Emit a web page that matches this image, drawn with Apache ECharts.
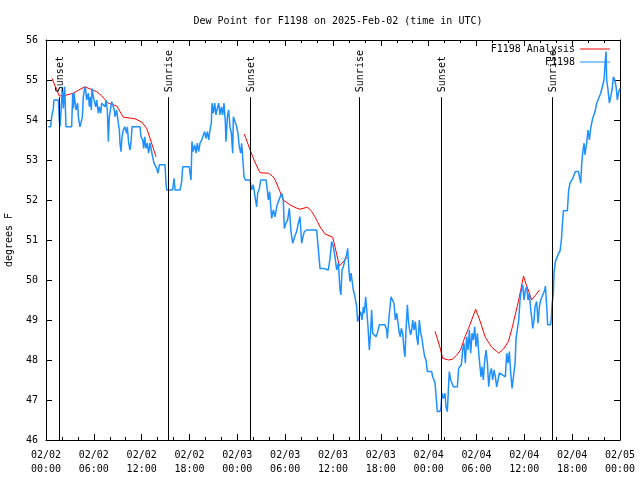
<!DOCTYPE html>
<html><head><meta charset="utf-8">
<script src="https://cdn.jsdelivr.net/npm/echarts@6/dist/echarts.min.js"></script>
<style>html,body{margin:0;padding:0;background:#fff}#c{width:640px;height:480px}</style>
</head><body><div id="c"></div>
<script>
// Hours since 2025-02-02 00:00 UTC
const obsHours = [0.29,0.59,0.71,0.92,1.0,1.55,1.67,1.76,1.97,2.05,2.17,2.34,2.51,3.22,3.35,3.43,3.51,3.76,3.97,4.06,4.18,4.26,4.47,4.56,4.68,4.81,4.93,5.1,5.31,5.44,5.56,5.69,5.77,5.94,6.15,6.23,6.36,6.56,6.69,6.86,6.98,7.19,7.4,7.53,7.69,7.82,7.94,8.11,8.24,8.45,8.57,8.65,8.86,9.07,9.2,9.28,9.41,9.53,9.7,9.87,10.12,10.2,10.37,10.54,10.66,10.79,11.04,11.79,11.92,12.13,12.25,12.38,12.54,12.71,12.88,13.05,13.21,13.38,13.55,13.71,13.88,14.05,14.22,14.93,15.05,15.14,15.89,16.06,16.19,16.81,17.02,17.15,17.98,18.06,18.19,18.31,
18.45,18.65,18.82,18.98,19.15,19.32,19.53,19.73,19.9,20.07,20.24,20.41,20.57,20.74,20.82,20.99,21.16,21.32,21.49,21.66,21.83,22.0,22.16,22.33,22.5,22.58,22.75,22.91,23.08,23.25,23.42,23.5,23.75,23.92,24.08,24.25,24.42,24.54,24.67,24.84,25.01,25.59,25.79,26.0,26.22,26.43,26.55,26.76,26.93,27.6,27.76,27.89,28.05,
28.31,28.52,28.73,28.93,29.14,29.35,29.56,29.77,29.89,30.1,30.31,30.52,30.73,30.94,31.1,31.27,31.44,31.65,31.86,32.07,32.19,32.4,32.7,33.95,34.16,34.37,34.58,34.79,35.0,35.41,35.63,35.83,36.04,36.25,36.46,36.67,36.88,37.0,37.13,37.29,37.5,37.71,37.84,38.0,38.13,38.26,38.38,38.55,38.76,38.97,39.09,39.3,39.47,39.64,39.81,39.93,40.1,40.23,40.39,40.56,40.73,40.85,40.98,41.15,41.4,41.56,41.81,42.52,
42.73,42.81,42.9,43.03,43.28,43.49,43.65,43.82,43.99,44.16,44.28,44.45,44.57,44.74,44.91,45.03,45.16,45.33,45.45,45.58,45.74,45.87,46.0,46.16,46.33,46.5,46.66,46.83,47.0,47.16,47.33,47.5,47.67,47.84,48.38,48.5,48.67,48.8,48.92,49.09,49.42,49.55,49.67,49.84,50.05,50.17,50.34,50.47,50.59,50.76,51.1,51.6,51.76,51.93,52.1,52.27,52.43,52.6,52.77,52.94,53.1,53.27,53.44,53.61,53.77,53.94,54.11,54.28,54.44,54.57,54.69,54.86,55.03,55.2,55.37,55.53,55.7,55.87,56.03,56.2,56.37,56.53,56.7,56.87,57.04,57.62,57.79,57.96,58.12,58.29,58.46,58.71,58.84,58.96,59.13,59.3,59.46,59.63,59.8,59.96,60.13,60.3,60.46,60.63,60.8,60.92,61.05,61.22,61.34,61.55,61.72,61.89,62.05,62.22,62.39,62.56,62.64,62.81,62.93,63.3,63.4,63.47,63.64,63.72,63.89,64.14,64.31,64.48,64.65,64.81,64.9,65.4,65.56,65.73,66.07,66.4,66.78,66.98,67.07,67.19,67.32,67.49,67.61,67.74,67.82,67.99,68.16,68.32,68.57,68.87,69.08,69.33,69.58,69.83,70.0,70.16,70.25,70.33,70.5,70.67,70.84,71.0,71.17,71.34,71.51,71.67,71.84,72.0];
const obsValues = [53.83,53.83,54.08,54.29,54.5,54.5,54.0,53.83,54.5,54.83,54.29,54.83,53.83,53.83,54.67,54.29,54.67,54.25,54.42,54.08,53.92,53.83,53.83,54.08,54.58,54.75,54.83,54.5,54.67,54.33,54.58,54.25,54.79,54.58,54.54,54.33,54.5,54.17,54.33,54.17,54.42,54.46,54.33,54.5,54.25,53.46,54.08,54.29,54.46,54.46,54.25,54.08,54.25,53.92,53.75,53.42,53.21,53.58,53.75,53.83,53.67,53.83,53.42,53.25,53.42,53.83,53.83,53.83,53.58,53.5,53.29,53.58,53.29,53.42,53.17,53.42,53.25,53.08,52.92,52.88,52.79,52.67,52.88,52.88,52.42,52.25,52.25,52.54,52.25,52.25,52.46,52.83,52.83,52.67,52.5,53.46,
53.21,53.38,53.17,53.42,53.21,53.42,53.5,53.5,53.71,53.54,53.71,53.5,53.75,53.92,54.42,54.17,54.42,54.13,54.29,54.42,54.13,54.33,54.13,54.42,53.92,53.46,54.08,54.25,53.83,53.67,53.17,54.08,54.08,53.83,53.67,53.33,53.17,53.42,53.08,52.58,52.5,52.5,52.25,52.38,52.08,51.83,52.17,52.29,52.5,52.5,52.25,52.0,52.21,
51.54,51.75,51.58,51.83,51.96,52.0,52.17,52.0,51.29,51.42,51.5,51.79,51.21,50.92,50.88,51.13,51.21,51.42,51.58,50.92,51.04,51.21,51.25,51.25,51.21,50.29,50.25,50.29,50.25,50.25,50.54,50.96,50.83,50.58,50.25,50.42,49.75,49.63,50.25,50.33,50.5,50.63,50.79,50.25,49.96,50.17,50.0,49.75,49.58,49.33,48.96,48.96,49.21,49.0,49.33,49.17,49.58,49.25,48.83,48.25,48.75,49.25,48.67,48.63,48.58,48.67,48.88,48.88,
48.75,48.54,48.75,49.08,49.58,49.58,49.42,49.0,49.17,48.92,48.71,48.58,48.79,48.67,48.25,48.08,48.75,49.38,49.0,48.79,48.63,48.75,49.0,48.75,48.96,48.58,48.38,49.0,48.67,48.54,48.29,48.08,48.0,47.71,47.71,47.58,47.5,47.42,47.13,46.71,46.71,46.83,47.17,47.04,47.17,46.83,46.71,47.25,47.71,47.5,47.33,47.33,47.79,47.75,47.88,48.25,48.42,47.92,48.58,48.25,48.75,48.17,48.67,48.5,48.83,48.33,48.67,48.17,47.83,47.58,47.83,47.5,48.0,48.25,47.92,47.33,47.67,47.79,47.5,47.75,47.58,47.33,47.5,47.68,47.63,47.58,48.17,47.92,48.21,47.67,47.29,47.33,47.92,48.54,48.5,49.0,49.5,49.75,49.88,49.5,49.75,49.83,49.5,49.67,49.25,49.08,48.79,49.0,49.33,49.46,48.92,49.33,49.5,49.58,49.63,49.75,49.85,49.33,48.88,48.88,49.08,49.38,49.67,50.17,50.46,50.5,50.67,50.73,51.0,51.5,51.73,51.73,52.25,52.42,52.54,52.71,52.71,52.67,52.42,52.88,53.17,53.42,53.13,53.33,53.42,53.75,53.5,53.79,54.04,54.21,54.42,54.46,54.67,54.71,55.0,55.5,55.71,55.0,54.75,54.42,54.42,54.75,55.08,55.0,54.83,54.5,54.71,54.79];

// Analysis segments (null = gap)
const anaHours = [0.75,1.67,2.5,3.42,4.1,4.89,5.6,6.36,7.0,7.81,8.87,9.7,11.16,12.0,12.63,13.2,13.8, 19,
24.87,25.7,26.2,26.85,27.9,28.4,28.7,29.35,29.77,30.6,31.4,31.86,32.8,33.3,33.74,34.37,35.0,35.96,36.4,36.8,37.8, 43,
48.8,49.4,49.76,50.5,51.0,51.5,52.0,52.5,53.0,53.9,54.4,55.1,55.9,56.8,57.4,58.0,58.5,59.25,59.9,60.2,60.5,60.9,61.4,61.9];
const anaValues = [55.04,54.6,54.62,54.67,54.75,54.83,54.77,54.71,54.6,54.42,54.35,54.07,54.03,53.95,53.79,53.45,53.08, null,
53.65,53.2,52.95,52.68,52.67,52.6,52.52,52.21,52.0,51.88,51.8,51.77,51.82,51.72,51.58,51.33,51.15,51.07,50.7,50.35,50.57, null,
48.72,48.33,48.04,48.0,48.02,48.12,48.25,48.55,48.79,49.27,49.0,48.57,48.32,48.17,48.28,48.46,48.83,49.46,50.1,49.9,49.75,49.5,49.62,49.75];

const sunHours = [1.6, 15.35, 25.65, 39.3, 49.6, 63.42];
const sunLabels = ['Sunset','Sunrise','Sunset','Sunrise','Sunset','Sunrise'];
const sunLineTop = 54.57;

const xTickLabels = ['02/02\n00:00','02/02\n06:00','02/02\n12:00','02/02\n18:00','02/03\n00:00','02/03\n06:00','02/03\n12:00','02/03\n18:00','02/04\n00:00','02/04\n06:00','02/04\n12:00','02/04\n18:00','02/05\n00:00'];

const FONT = '"DejaVu Sans Mono", monospace';
const chart = echarts.init(document.getElementById('c'), null, {renderer:'canvas'});
const obsData = obsHours.map((h,i)=>[h, obsValues[i]]);
const anaData = anaHours.map((h,i)=>[h, anaValues[i]===null ? '-' : anaValues[i]]);

const axisCommon = {
  axisLine:{show:true, onZero:false, lineStyle:{color:'#000', width:1}},
  splitLine:{show:false}
};
chart.setOption({
  animation:false,
  backgroundColor:'#fff',
  textStyle:{fontFamily:FONT, fontSize:10, color:'#000'},
  title:{text:'Dew Point for F1198 on 2025-Feb-02 (time in UTC)', left:333, top:11, textAlign:'center',
    textStyle:{fontFamily:FONT, fontSize:10, fontWeight:'normal', color:'#000'}},
  grid:{left:46, right:20, top:40, bottom:40, show:false, containLabel:false, outerBoundsMode:'none'},
  legend:{data:['F1198 Analysis','F1198'], orient:'vertical', right:30, top:44, align:'right', padding:0,
    icon:'rect', itemWidth:30, itemHeight:1, itemGap:3,
    textStyle:{fontFamily:FONT, fontSize:10, color:'#000'}},
  xAxis:[
    Object.assign({type:'value', min:0, max:72, interval:6, position:'bottom',
      axisTick:{show:true, inside:true, length:6, lineStyle:{color:'#000'}},
      minorTick:{show:true, splitNumber:3, length:3, lineStyle:{color:'#000'}},
      axisLabel:{margin:8, lineHeight:14, fontFamily:FONT, fontSize:10, color:'#000',
        formatter:(v)=>xTickLabels[Math.round(v/6)]}}, axisCommon),
    Object.assign({type:'value', min:0, max:72, interval:6, position:'top',
      axisTick:{show:true, inside:true, length:6, lineStyle:{color:'#000'}},
      minorTick:{show:true, splitNumber:3, length:3, lineStyle:{color:'#000'}},
      axisLabel:{show:false}}, axisCommon)
  ],
  yAxis:[
    Object.assign({type:'value', min:46, max:56, interval:1, position:'left',
      name:'degrees F', nameLocation:'middle', nameRotate:90, nameGap:32,
      nameTextStyle:{fontFamily:FONT, fontSize:10, color:'#000'},
      axisTick:{show:true, inside:true, length:6, lineStyle:{color:'#000'}},
      axisLabel:{margin:8, fontFamily:FONT, fontSize:10, color:'#000'}}, axisCommon),
    Object.assign({type:'value', min:46, max:56, interval:1, position:'right',
      axisTick:{show:true, inside:true, length:6, lineStyle:{color:'#000'}},
      axisLabel:{show:false}}, axisCommon)
  ],
  series:[
    {name:'F1198 Analysis', type:'line', data:anaData, showSymbol:false, symbol:'none',
      connectNulls:false, lineStyle:{color:'#ff0000', width:1}, itemStyle:{color:'#ff0000'}, z:2},
    {name:'F1198', type:'line', data:obsData, showSymbol:false, symbol:'none',
      lineStyle:{color:'#1e90ff', width:1.5}, itemStyle:{color:'#1e90ff'}, z:3},
    {name:'sun', type:'custom', data:sunHours.map(h=>[h,46]), z:4, silent:true,
      renderItem:(params, api)=>{
        const h = api.value(0);
        const p0 = api.coord([h, 46]);
        const p1 = api.coord([h, sunLineTop]);
        const xx = Math.round(p0[0]) + 0.5;
        return {type:'group', children:[
          {type:'line', shape:{x1:xx, y1:p0[1], x2:xx, y2:p1[1]}, style:{stroke:'#000', lineWidth:1}},
          {type:'text', x:xx+1, y:p1[1]-5, rotation:Math.PI/2,
            style:{text:sunLabels[params.dataIndex], font:'10px '+FONT, fill:'#000', align:'left', verticalAlign:'middle'}}
        ]};
      }}
  ]
});
</script></body></html>
